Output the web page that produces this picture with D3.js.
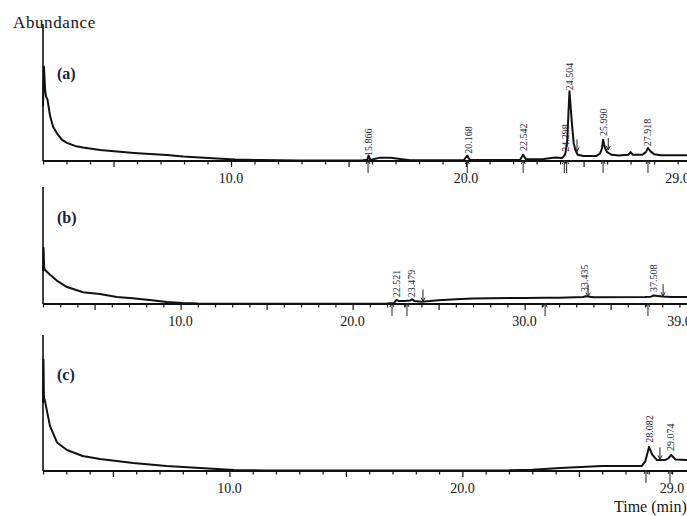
<!DOCTYPE html>
<html>
<head>
<meta charset="utf-8">
<script src="https://cdn.jsdelivr.net/npm/d3@7"></script>
<style>
  body { margin: 0; background: #fff; }
  svg text { font-family: "Liberation Serif", "Times New Roman", serif; fill: #141414; }
</style>
</head>
<body>
<svg id="chart" width="687" height="516"></svg>
<script>
// traces: [retention time (min), relative abundance]
const traceA = [
  [2.00, 40], [2.04, 69], [2.09, 52], [2.13, 47], [2.19, 45], [2.30, 33], [2.43, 25],
  [2.60, 20], [2.81, 15.4], [3.02, 13.2], [3.36, 11], [3.70, 9.9], [4.43, 8.1],
  [5.15, 7.0], [5.87, 5.9], [6.55, 5.1], [7.28, 4.4], [7.96, 3.3], [8.68, 2.6],
  [9.40, 1.8], [10.17, 1.1], [11.2, 0.7], [12.9, 0.4], [15.6, 0.5], [15.80, 1.0],
  [15.85, 4.0], [15.92, 0.8], [16.1, 1.5], [16.3, 2.3], [16.8, 2.3], [17.2, 1.5],
  [17.6, 0.6], [19.9, 0.5], [20.05, 4.0], [20.15, 1.0], [21.5, 0.7], [22.3, 0.9],
  [22.43, 4.5], [22.55, 1.2], [23.3, 1.5], [23.8, 2.5], [24.1, 2.2], [24.22, 5],
  [24.30, 14], [24.40, 51], [24.50, 28], [24.58, 13], [24.65, 8], [24.75, 4.5],
  [25.0, 3.7], [25.55, 3.7], [25.70, 5.5], [25.78, 9], [25.83, 15.5], [25.90, 10],
  [26.0, 6.5], [26.2, 4.5], [26.5, 4.0], [26.9, 4.5], [27.0, 6.5], [27.1, 4.5],
  [27.5, 4.5], [27.65, 6.5], [27.74, 9.5], [27.85, 7], [28.0, 5], [28.3, 4.2], [29.5, 4.2]
];
const traceB = [
  [2.00, 28], [2.03, 48], [2.07, 31], [2.12, 29], [2.41, 25], [2.80, 20], [3.40, 14.5],
  [4.33, 10], [5.30, 8.5], [6.30, 6], [7.20, 5], [8.20, 3.4], [9.20, 1.7], [10.1, 0.8],
  [11.0, 0.4], [15.0, 0.3], [20.0, 0.3], [22.0, 0.5], [22.4, 0.8], [22.55, 3.5],
  [22.7, 2.5], [23.0, 2.5], [23.35, 3.0], [23.45, 4.0], [23.6, 2.5], [24.0, 2.0],
  [24.5, 2.5], [25.0, 3.3], [26.0, 4.0], [27.0, 4.7], [28.0, 5.0], [30.0, 5.2],
  [31.2, 5.3], [32.0, 5.3], [33.4, 6.0], [33.55, 6.6], [34.0, 5.8], [37.0, 6.0],
  [37.35, 6.3], [37.5, 7.3], [38.0, 6.5], [38.5, 6.0], [39.5, 6.0]
];
const traceC = [
  [2.00, 50], [2.02, 82], [2.04, 54], [2.09, 51], [2.30, 33], [2.60, 21], [3.03, 15.4],
  [3.70, 11], [4.45, 8.8], [5.87, 5.9], [7.30, 3.7], [8.74, 2.2], [10.2, 0.7],
  [11.5, 0.4], [20.0, 0.3], [22.0, 0.5], [23.0, 1.0], [24.2, 2.2], [26.0, 3.7],
  [27.7, 3.7], [27.85, 7], [28.01, 17.6], [28.15, 12], [28.35, 8], [28.7, 8],
  [28.85, 9.5], [28.96, 11.8], [29.15, 8.5], [29.8, 8]
];

// labelled peaks: [time, abundance at apex, label]
const peaksA = [
  [15.87, 3.0, "15.866"], [20.09, 4.5, "20.168"], [22.43, 6.5, "22.542"],
  [24.21, 6.0, "24.298"], [24.40, 51, "24.504"], [25.83, 17.5, "25.990"], [27.74, 10, "27.918"]
];
const peaksB = [
  [22.58, 5, "22.521"], [23.45, 5, "23.479"], [33.51, 9.5, "33.435"], [37.47, 9.5, "37.508"]
];
const peaksC = [
  [28.01, 20, "28.082"], [28.93, 14, "29.074"]
];

// integration marks below the baseline and above the trace: [time] / [time, level]
const belowA = [15.83, 20.05, 22.43, 24.18, 24.28, 25.83, 27.74];
const aboveA = [[24.72, 7], [26.05, 8]];
const belowB = [22.29, 23.16, 31.19, 37.17];
const aboveB = [[24.09, 2.2], [33.69, 6.2], [38.05, 6.6]];
const belowC = [27.88, 28.91];
const aboveC = [[28.48, 8.5]];

const tickLabelsA = [10, 20, 29];
const tickLabelsB = [10, 20, 30, 39];
const tickLabelsC = [10, 20, 29];

const panelNames = ["(a)", "(b)", "(c)"];
const traces = [traceA, traceB, traceC];
const peaks = [peaksA, peaksB, peaksC];
const belows = [belowA, belowB, belowC];
const aboves = [aboveA, aboveB, aboveC];
const tickLabels = [tickLabelsA, tickLabelsB, tickLabelsC];
const tEnd = [29.40, 39.44, 29.64];

// layout
const left = 43, right = 687;
const layout = [
  {top: 24, base: 161, nameY: 79},
  {top: 187, base: 304, nameY: 223},
  {top: 335, base: 471, nameY: 380}
];

const svg = d3.select("#chart");
svg.append("rect").attr("width", 687).attr("height", 516).attr("fill", "#fff");

layout.forEach((lay, i) => {
  let x = d3.scaleLinear().domain([2, tEnd[i]]).range([left, right]);
  let y = d3.scaleLinear().domain([0, 100]).range([lay.base, lay.top]);
  let g = svg.append("g");

  // x axis with 1-min ticks, longer every 5 min
  let minor = d3.range(2, Math.floor(tEnd[i]) + 1);
  let axis = d3.axisBottom(x)
      .tickValues(minor)
      .tickSize(3)
      .tickFormat("");
  let ax = g.append("g")
      .attr("transform", `translate(0,${lay.base})`)
      .call(axis);
  ax.select(".domain").remove();
  ax.selectAll(".tick line")
      .attr("stroke", "#111")
      .attr("stroke-width", 1.2)
      .attr("y2", (d) => d % 5 === 0 ? 6 : 3.5);

  g.selectAll(".tlab")
      .data(tickLabels[i])
      .enter().append("text")
      .attr("x", (d) => x(d))
      .attr("y", lay.base + 21.5)
      .attr("text-anchor", "middle")
      .style("font-size", "14px")
      .text((d) => d3.format(".1f")(d));

  // axis lines
  g.append("line")
      .attr("x1", left).attr("x2", right)
      .attr("y1", lay.base).attr("y2", lay.base)
      .attr("stroke", "#111").attr("stroke-width", 2);
  g.append("line")
      .attr("x1", left).attr("x2", left)
      .attr("y1", lay.top).attr("y2", lay.base)
      .attr("stroke", "#111").attr("stroke-width", 1.6);

  // trace
  let line = d3.line()
      .x((d) => x(d[0]))
      .y((d) => y(d[1]));
  g.append("path")
      .datum(traces[i])
      .attr("d", line)
      .attr("fill", "none")
      .attr("stroke", "#111")
      .attr("stroke-width", 2)
      .attr("stroke-linejoin", "round");

  // marks under baseline
  g.selectAll(".below")
      .data(belows[i])
      .enter().append("path")
      .attr("d", (d) => {
        let px = x(d);
        return `M${px},${lay.base + 12}V${lay.base - 1}M${px - 2},${lay.base + 3}L${px},${lay.base - 1}L${px + 2},${lay.base + 3}`;
      })
      .attr("fill", "none")
      .attr("stroke", "#222")
      .attr("stroke-width", 1);

  // marks above trace
  g.selectAll(".above")
      .data(aboves[i])
      .enter().append("path")
      .attr("d", (d) => {
        let px = x(d[0]), py = y(d[1]);
        return `M${px},${py - 12}V${py}M${px - 2},${py - 4}L${px},${py}L${px + 2},${py - 4}`;
      })
      .attr("fill", "none")
      .attr("stroke", "#222")
      .attr("stroke-width", 1);

  // peak labels
  g.selectAll(".plab")
      .data(peaks[i])
      .enter().append("text")
      .attr("transform", (d) => `translate(${x(d[0])},${y(d[1]) - 1}) rotate(-90)`)
      .attr("dominant-baseline", "central")
      .style("font-size", "10px")
      .style("fill", "#1c1c3c")
      .text((d) => d[2]);

  g.append("text")
      .attr("x", 57)
      .attr("y", lay.nameY)
      .style("font-size", "16px")
      .style("font-weight", "bold")
      .style("fill", "#1c1c3c")
      .text(panelNames[i]);
});

svg.append("text")
    .attr("x", 13).attr("y", 28)
    .style("font-size", "17px")
    .style("letter-spacing", "0.6px")
    .text("Abundance");

svg.append("text")
    .attr("x", 614).attr("y", 512)
    .style("font-size", "16px")
    .text("Time (min)");
</script>
</body>
</html>
